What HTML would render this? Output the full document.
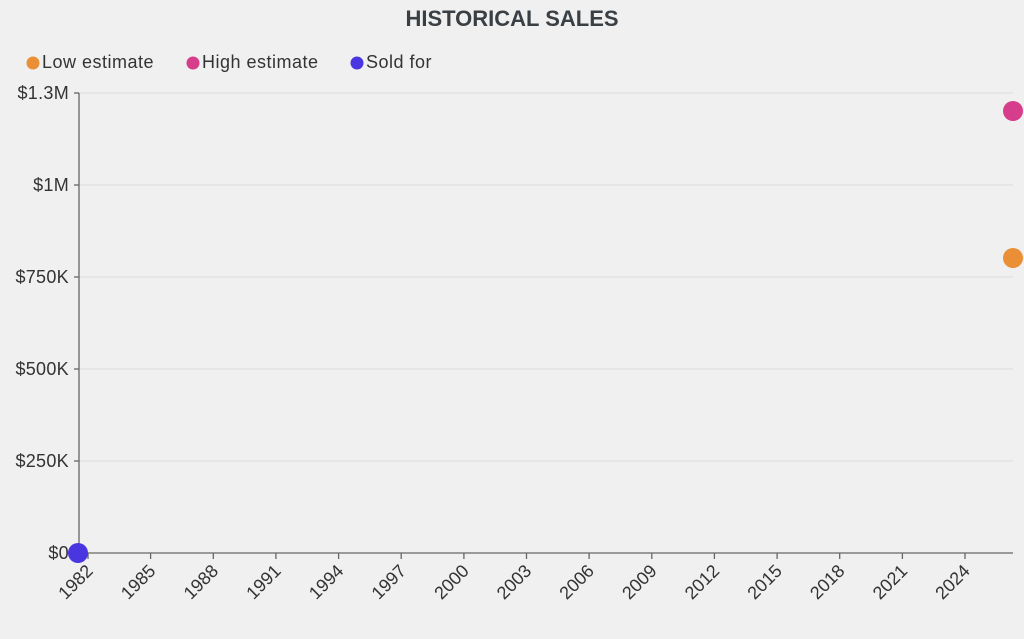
<!DOCTYPE html>
<html><head><style>
body{margin:0;background:#f0f0f0;font-family:"Liberation Sans",sans-serif;}
</style></head><body>
<svg width="1024" height="634" xmlns="http://www.w3.org/2000/svg" font-family="Liberation Sans, sans-serif">
<rect width="1024" height="634" fill="#f0f0f0"/>
<text x="512" y="26" text-anchor="middle" font-size="22" font-weight="bold" fill="#3a3f44">HISTORICAL SALES</text>
<g font-size="18" fill="#333" letter-spacing="0.5">
<circle cx="33" cy="63" r="6.5" fill="#ea8f35"/><text x="42" y="68">Low estimate</text>
<circle cx="193" cy="63" r="6.5" fill="#d63d8a"/><text x="202" y="68">High estimate</text>
<circle cx="357" cy="63" r="6.5" fill="#4a36e0"/><text x="366" y="68">Sold for</text>
</g>
<g stroke="#ddd" stroke-width="1">
<line x1="79" y1="93" x2="1013" y2="93"/><line x1="79" y1="185" x2="1013" y2="185"/><line x1="79" y1="277" x2="1013" y2="277"/><line x1="79" y1="369" x2="1013" y2="369"/><line x1="79" y1="461" x2="1013" y2="461"/>
</g>
<g stroke="#666" stroke-width="1.3">
<line x1="79" y1="93" x2="79" y2="553"/><line x1="79" y1="553" x2="1013" y2="553"/>
<line x1="74" y1="93" x2="79" y2="93"/><line x1="74" y1="185" x2="79" y2="185"/><line x1="74" y1="277" x2="79" y2="277"/><line x1="74" y1="369" x2="79" y2="369"/><line x1="74" y1="461" x2="79" y2="461"/><line x1="74" y1="553" x2="79" y2="553"/>
</g>
<g font-size="18" fill="#333" text-anchor="end" letter-spacing="0.3">
<text x="69" y="99">$1.3M</text><text x="69" y="191">$1M</text><text x="69" y="283">$750K</text><text x="69" y="375">$500K</text><text x="69" y="467">$250K</text><text x="69" y="559">$0</text>
</g>
<g stroke="#666" stroke-width="1.3">
<line x1="88" y1="553" x2="88" y2="559"/><line x1="150.6" y1="553" x2="150.6" y2="559"/><line x1="213.3" y1="553" x2="213.3" y2="559"/><line x1="275.9" y1="553" x2="275.9" y2="559"/><line x1="338.6" y1="553" x2="338.6" y2="559"/><line x1="401.2" y1="553" x2="401.2" y2="559"/><line x1="463.9" y1="553" x2="463.9" y2="559"/><line x1="526.5" y1="553" x2="526.5" y2="559"/><line x1="589.1" y1="553" x2="589.1" y2="559"/><line x1="651.8" y1="553" x2="651.8" y2="559"/><line x1="714.4" y1="553" x2="714.4" y2="559"/><line x1="777.1" y1="553" x2="777.1" y2="559"/><line x1="839.7" y1="553" x2="839.7" y2="559"/><line x1="902.4" y1="553" x2="902.4" y2="559"/><line x1="965" y1="553" x2="965" y2="559"/>
</g>
<g font-size="18" fill="#333" text-anchor="end">
<text transform="translate(94,572) rotate(-45)">1982</text>
<text transform="translate(156.6,572) rotate(-45)">1985</text>
<text transform="translate(219.3,572) rotate(-45)">1988</text>
<text transform="translate(281.9,572) rotate(-45)">1991</text>
<text transform="translate(344.6,572) rotate(-45)">1994</text>
<text transform="translate(407.2,572) rotate(-45)">1997</text>
<text transform="translate(469.9,572) rotate(-45)">2000</text>
<text transform="translate(532.5,572) rotate(-45)">2003</text>
<text transform="translate(595.1,572) rotate(-45)">2006</text>
<text transform="translate(657.8,572) rotate(-45)">2009</text>
<text transform="translate(720.4,572) rotate(-45)">2012</text>
<text transform="translate(783.1,572) rotate(-45)">2015</text>
<text transform="translate(845.7,572) rotate(-45)">2018</text>
<text transform="translate(908.4,572) rotate(-45)">2021</text>
<text transform="translate(971,572) rotate(-45)">2024</text>
</g>
<circle cx="78" cy="553" r="10" fill="#4a36e0"/>
<circle cx="1013" cy="111" r="10" fill="#d63d8a"/>
<circle cx="1013" cy="258" r="10" fill="#ea8f35"/>
</svg>
</body></html>
